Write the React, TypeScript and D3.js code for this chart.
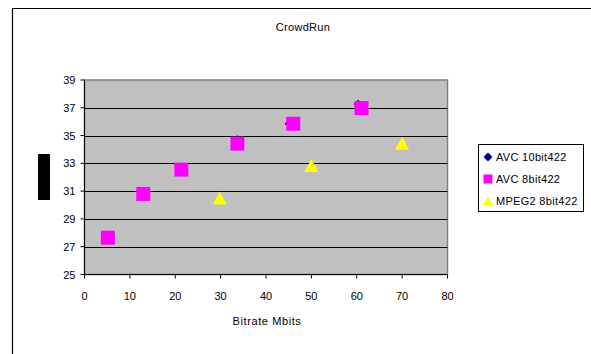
import React from "react";
import * as d3 from "d3";

const title = "CrowdRun";
const xTitle = "Bitrate Mbits";
const xTicks = [0, 10, 20, 30, 40, 50, 60, 70, 80];
const yTicks = [25, 27, 29, 31, 33, 35, 37, 39];

const avc10X = [5.15, 13, 21.35, 33.7, 45.1, 60.3];
const avc10Y = [27.7, 30.85, 32.6, 34.7, 35.85, 37.25];
const avc8X = [5.15, 12.95, 21.35, 33.7, 46.0, 61.05];
const avc8Y = [27.65, 30.8, 32.55, 34.42, 35.85, 36.98];
const mpeg2X = [29.8, 50, 70];
const mpeg2Y = [30.5, 32.85, 34.45];

const seriesNames = ["AVC 10bit422", "AVC 8bit422", "MPEG2 8bit422"];
const seriesColors = ["#000080", "#ff00ff", "#ffff00"];

function diamondPath(r: number) {
  const p = d3.path();
  p.moveTo(0, -r);
  p.lineTo(r, 0);
  p.lineTo(0, r);
  p.lineTo(-r, 0);
  p.closePath();
  return p.toString();
}
function trianglePath(w: number, h: number) {
  const p = d3.path();
  p.moveTo(0, -h / 2);
  p.lineTo(w / 2, h / 2);
  p.lineTo(-w / 2, h / 2);
  p.closePath();
  return p.toString();
}

export default function App() {
  const W = 591, H = 354;
  const left = 84.5, right = 447.5, top = 80, bottom = 274.5;
  const x = d3.scaleLinear().domain([0, 80]).range([left, right]);
  const y = d3.scaleLinear().domain([25, 39]).range([bottom, top]);
  const font = "'Liberation Sans', Arial, sans-serif";
  const fs = 11;
  const ls = 0.3;

  const diamond = diamondPath(4.5);
  const square = d3.symbol().type(d3.symbolSquare).size(196)();
  const triangle = trianglePath(14, 13);

  const legendItems = [0, 1, 2];
  const legendY = [157, 179, 201];
  const legendShapes = [diamondPath(4.5), d3.symbol().type(d3.symbolSquare).size(81)(), trianglePath(10, 9)];

  return (
    <svg width={W} height={H} style={{ position: "absolute", left: 0, top: 0, display: "block" }}>
      <rect x={0} y={0} width={W} height={H} fill="#fff" />
      <path d={`M12.5,${H + 5} V8.5 H${W + 5}`} fill="none" stroke="#000" strokeWidth={1.2} />
      <text x={303} y={31} textAnchor="middle" fontFamily={font} fontSize={fs} letterSpacing={ls} fill="#000">{title}</text>
      <rect x={left} y={top} width={right - left} height={bottom - top} fill="#c0c0c0" stroke="#808080" strokeWidth={1.5} />
      {yTicks.filter(v => v !== 25 && v !== 39).map(v => (
        <line key={v} x1={left} x2={right} y1={Math.round(y(v)) + 0.5} y2={Math.round(y(v)) + 0.5} stroke="#000" strokeWidth={1} />
      ))}
      <line x1={left} x2={left} y1={top} y2={bottom} stroke="#000" strokeWidth={1} />
      <line x1={left} x2={right} y1={bottom} y2={bottom} stroke="#000" strokeWidth={1} />
      {yTicks.map(v => (
        <g key={v}>
          <line x1={left - 4} x2={left} y1={y(v)} y2={y(v)} stroke="#000" />
          <text x={left - 9} y={y(v) + 4} textAnchor="end" fontFamily={font} fontSize={fs} fill="#000">{v}</text>
        </g>
      ))}
      {xTicks.map(v => (
        <g key={v}>
          <line x1={x(v)} x2={x(v)} y1={bottom} y2={bottom + 4} stroke="#000" />
          <text x={x(v)} y={300} textAnchor="middle" fontFamily={font} fontSize={fs} fill="#000">{v}</text>
        </g>
      ))}
      <text x={267} y={325} textAnchor="middle" fontFamily={font} fontSize={fs} letterSpacing={0.6} fill="#000">{xTitle}</text>
      <rect x={38} y={154} width={12} height={46} fill="#000" />
      {avc10X.map((v, i) => (
        <path key={"a" + i} d={diamond} transform={`translate(${x(v)},${y(avc10Y[i])})`} fill={seriesColors[0]} />
      ))}
      {avc8X.map((v, i) => (
        <path key={"b" + i} d={square!} transform={`translate(${x(v)},${y(avc8Y[i])})`} fill={seriesColors[1]} />
      ))}
      {mpeg2X.map((v, i) => (
        <path key={"c" + i} d={triangle} transform={`translate(${x(v)},${y(mpeg2Y[i])})`} fill={seriesColors[2]} />
      ))}
      <rect x={478.5} y={144.5} width={105} height={67} fill="#fff" stroke="#000" strokeWidth={1} />
      {legendItems.map(i => (
        <g key={i}>
          <path d={legendShapes[i]!} transform={`translate(488,${legendY[i]})`} fill={seriesColors[i]} />
          <text x={496} y={legendY[i] + 4} fontFamily={font} fontSize={fs} letterSpacing={ls} fill="#000">{seriesNames[i]}</text>
        </g>
      ))}
    </svg>
  );
}
